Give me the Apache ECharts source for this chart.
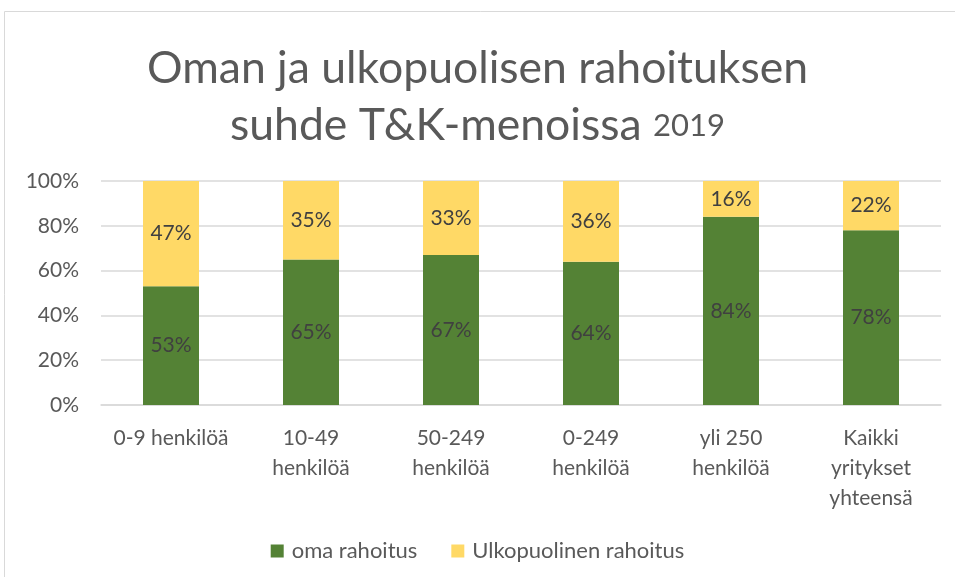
<!DOCTYPE html>
<html><head><meta charset="utf-8">
<script src="https://cdn.jsdelivr.net/npm/echarts@6/dist/echarts.min.js"></script>
<style>html,body{margin:0;padding:0;background:#fff}#c{width:955px;height:577px}</style>
</head><body><div id="c"></div>
<script>
var categories = ['0-9 henkilöä', '10-49\nhenkilöä', '50-249\nhenkilöä', '0-249\nhenkilöä', 'yli 250\nhenkilöä', 'Kaikki\nyritykset\nyhteensä'];
var omaRahoitus = [53, 65, 67, 64, 84, 78];
var ulkopuolinen = [47, 35, 33, 36, 16, 22];
var yTicks = [0, 20, 40, 60, 80, 100];
var seriesNames = ['oma rahoitus', 'Ulkopuolinen rahoitus'];

var FONT = 'Lato';
var chart = echarts.init(document.getElementById('c'));
chart.setOption({
  animation: false,
  textStyle: { fontFamily: FONT },
  graphic: [{ type: 'rect', shape: { x: 4.5, y: 11.5, width: 960, height: 570 }, style: { fill: 'none', stroke: '#d9d9d9', lineWidth: 1 } }],
  title: {
    text: '{a|Oman ja ulkopuolisen rahoituksen}\n{a|suhde T&K-menoissa }{b|2019}',
    left: 'center', top: 35,
    textStyle: {
      fontWeight: 'normal',
      rich: {
        a: { fontSize: 44.5, color: '#595959', fontFamily: FONT, fontWeight: 'normal', lineHeight: 57 },
        b: { fontSize: 31, color: '#595959', fontFamily: FONT, fontWeight: 'normal', lineHeight: 57 }
      }
    }
  },
  legend: {
    data: seriesNames, top: 535, left: 'center', itemWidth: 13, itemHeight: 13, itemGap: 34,
    icon: 'rect',
    textStyle: { fontSize: 22, color: '#595959', fontFamily: FONT, padding: [0, 0, 0, 3] }
  },
  grid: { left: 101, right: 14, top: 181, bottom: 172, containLabel: false },
  xAxis: {
    type: 'category', data: categories,
    axisLine: { lineStyle: { color: '#d9d9d9', width: 1.5 } },
    axisTick: { show: false },
    axisLabel: { fontSize: 21, color: '#595959', lineHeight: 30, margin: 18, interval: 0 }
  },
  yAxis: {
    type: 'value', min: 0, max: 100, interval: 20,
    axisLabel: { formatter: function (v) { return yTicks.indexOf(v) >= 0 ? v + '%' : ''; }, fontSize: 21, color: '#595959', margin: 22 },
    splitLine: { lineStyle: { color: '#d9d9d9', width: 1.5 } },
    axisLine: { show: false }, axisTick: { show: false }
  },
  series: [
    { name: seriesNames[0], type: 'bar', stack: 's', data: omaRahoitus, barWidth: '40%',
      itemStyle: { color: '#548235' },
      label: { show: true, position: 'inside', formatter: '{c}%', fontSize: 21, color: '#404040', fontFamily: FONT } },
    { name: seriesNames[1], type: 'bar', stack: 's', data: ulkopuolinen, barWidth: '40%',
      itemStyle: { color: '#FFD966' },
      label: { show: true, position: 'inside', formatter: '{c}%', fontSize: 21, color: '#404040', fontFamily: FONT } }
  ]
});
</script></body></html>
